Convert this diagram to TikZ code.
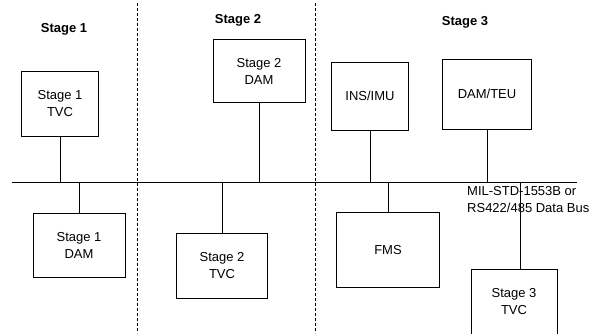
\documentclass[tikz,border=0pt]{standalone}
\usepackage{fontspec}
\setmainfont{Liberation Sans}
\usetikzlibrary{positioning}

\begin{document}
\begin{tikzpicture}[x=1pt, y=-1pt, every node/.style={font=\fontsize{13}{17}\selectfont},
  unit/.style={draw, line width=0.7pt, align=center, inner sep=0pt},
  stagelbl/.style={font=\fontsize{13}{15}\selectfont\bfseries},
  divider/.style={dashed, line width=0.7pt, dash pattern=on 3pt off 2pt},
  link/.style={line width=0.8pt}]
\clip (0,0) rectangle (592,333);
% Stage dividers
\draw[divider] (137,3) -- (137,333);
\draw[divider] (315,3) -- (315,333);
% Stage headings
\node[stagelbl] (st1) at (64,29) {Stage 1};
\node[stagelbl] (st2) at (238,20) {Stage 2};
\node[stagelbl] (st3) at (465,22) {Stage 3};
% Data bus
\coordinate (busL) at (12,182);
\coordinate (busR) at (577,182);
\draw[line width=1pt] (busL) -- (busR);
\node[align=left, anchor=north west, inner sep=0pt] (buslbl) at (467,186) {MIL-STD-1553B or\\RS422/485 Data Bus};
% Units above the bus
\node[unit, minimum width=77pt, minimum height=65pt] (s1tvc) at (60,104) {Stage 1\\TVC};
\node[unit, minimum width=92pt, minimum height=63pt] (s2dam) at (259,71) {Stage 2\\DAM};
\node[unit, minimum width=77pt, minimum height=68pt] (insimu) at (370,96) {INS/IMU};
\node[unit, minimum width=89pt, minimum height=70pt] (damteu) at (487,94) {DAM/TEU};
% Units below the bus
\node[unit, minimum width=92pt, minimum height=64pt] (s1dam) at (79,245) {Stage 1\\DAM};
\node[unit, minimum width=91pt, minimum height=65pt] (s2tvc) at (222,266) {Stage 2\\TVC};
\node[unit, minimum width=103pt, minimum height=75pt] (fms) at (388,250) {FMS};
\node[unit, minimum width=86pt, minimum height=66pt] (s3tvc) at (514,302) {Stage 3\\TVC};
% Links to the bus
\foreach \u in {s1tvc,s2dam,insimu,damteu}
  \draw[link] (\u.south) -- (\u.south |- busL);
\foreach \u in {s1dam,s2tvc,fms}
  \draw[link] (\u.north) -- (\u.north |- busL);
\draw[link] ([xshift=6pt]s3tvc.north) -- ([xshift=6pt]s3tvc.north |- busL);
\end{tikzpicture}
\end{document}
